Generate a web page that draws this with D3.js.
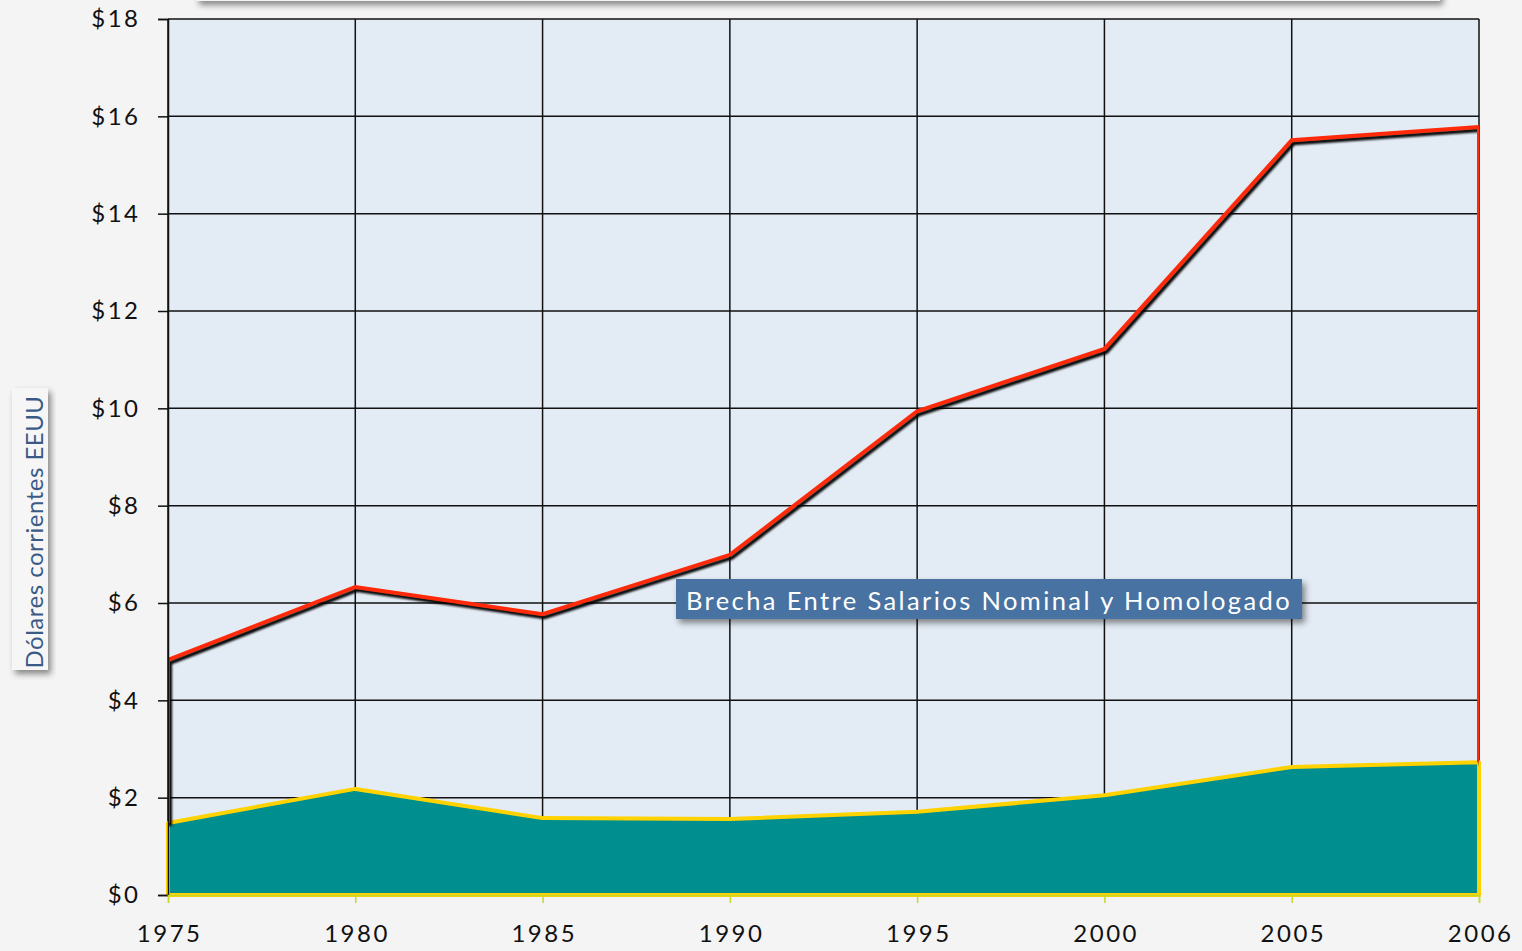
<!DOCTYPE html>
<html>
<head>
<meta charset="utf-8">
<script src="https://cdn.jsdelivr.net/npm/d3@7"></script>
<style>
  body { margin: 0; background: #f4f4f4; }
  svg { display: block; }
  .tick text { font-family: Lato, "Open Sans", sans-serif; fill: #111; letter-spacing: 2.5px; }
</style>
</head>
<body>
<svg id="chart" width="1522" height="951"></svg>
<script>
// datos
var anios = ["1975", "1980", "1985", "1990", "1995", "2000", "2005", "2006"];
var salarioNominal = [4.83, 6.33, 5.77, 6.99, 9.94, 11.22, 15.51, 15.78];
var salarioHomologado = [1.48, 2.18, 1.58, 1.56, 1.71, 2.05, 2.63, 2.73];
var ticksY = [0, 2, 4, 6, 8, 10, 12, 14, 16, 18];
var tituloEje = "Dólares corrientes EEUU";
var notaBrecha = "Brecha Entre Salarios Nominal y Homologado";

var svg = d3.select("#chart"),
    margin = {top: 19, right: 43, bottom: 56, left: 168},
    width = +svg.attr("width") - margin.left - margin.right,
    height = +svg.attr("height") - margin.top - margin.bottom;

var defs = svg.append("defs");
var sombra = defs.append("filter").attr("id", "sombra")
    .attr("x", "-10%").attr("y", "-10%").attr("width", "130%").attr("height", "160%");
sombra.append("feDropShadow")
    .attr("dx", 3).attr("dy", 4).attr("stdDeviation", 3)
    .attr("flood-color", "#000").attr("flood-opacity", 0.45);

defs.append("clipPath").attr("id", "recorte")
  .append("rect").attr("width", width).attr("height", height);

// caja del titulo (cortada arriba)
svg.append("rect")
    .attr("x", 196).attr("y", -40).attr("width", 1244).attr("height", 41)
    .attr("fill", "#f4f4f4").attr("filter", "url(#sombra)");

var data = anios.map(function (a, i) {
  return {anio: a, nominal: salarioNominal[i], homologado: salarioHomologado[i]};
});

var x = d3.scalePoint().domain(anios).range([0, width]);
var y = d3.scaleLinear().domain([0, 18]).range([height, 0]);

var g = svg.append("g").attr("transform", "translate(" + margin.left + "," + margin.top + ")");

g.append("rect").attr("width", width).attr("height", height).attr("fill", "#e3ebf4");

// cuadricula
g.append("g")
  .selectAll("line").data(ticksY).join("line")
    .attr("x1", 0).attr("x2", width)
    .attr("y1", function (d) { return y(d); }).attr("y2", function (d) { return y(d); })
    .attr("stroke", "#111").attr("stroke-width", 1.5);
g.append("g")
  .selectAll("line").data(anios).join("line")
    .attr("x1", function (d) { return x(d); }).attr("x2", function (d) { return x(d); })
    .attr("y1", 0).attr("y2", height)
    .attr("stroke", "#111").attr("stroke-width", 1.5);

// area homologado
var areaHom = d3.area()
    .x(function (d) { return x(d.anio); })
    .y0(y(0))
    .y1(function (d) { return y(d.homologado); });

g.append("path").datum(data)
    .attr("d", areaHom)
    .attr("fill", "#008f8e")
    .attr("stroke", "#ffd200").attr("stroke-width", 4).attr("stroke-linejoin", "round");

// contorno de la brecha (area apilada sobre el homologado)
var contorno = d3.line()
    .x(function (d) { return x(d[0]); })
    .y(function (d) { return y(d[1]); });

var pts = [[anios[0], salarioHomologado[0]]]
  .concat(data.map(function (d) { return [d.anio, d.nominal]; }))
  .concat([[anios[anios.length - 1], salarioHomologado[anios.length - 1]]]);

var gb = g.append("g").attr("clip-path", "url(#recorte)");
gb.append("path").datum(pts)
    .attr("d", contorno)
    .attr("transform", "translate(2,3)")
    .attr("fill", "none").attr("stroke", "#000").attr("stroke-width", 4)
    .attr("stroke-linejoin", "miter")
    .style("filter", "blur(0.8px)");
gb.append("path").datum(pts)
    .attr("d", contorno)
    .attr("fill", "none").attr("stroke", "#ff2a0a").attr("stroke-width", 4)
    .attr("stroke-linejoin", "miter");

// ejes
var ejeY = g.append("g")
    .call(d3.axisLeft(y).tickValues(ticksY).tickSize(10)
      .tickFormat(function (d) { return "$" + d; }));
ejeY.select(".domain").attr("stroke", "#111").attr("stroke-width", 1.5);
ejeY.selectAll(".tick line").attr("stroke", "#111").attr("stroke-width", 1.5);
ejeY.selectAll(".tick text").attr("font-size", 24).attr("dy", "0.33em")
    .attr("x", -27.5).attr("text-anchor", "end");

var ejeX = g.append("g")
    .attr("transform", "translate(0," + height + ")")
    .call(d3.axisBottom(x).tickSize(8).tickPadding(27));
ejeX.select(".domain").attr("stroke", "#c4d82e").attr("stroke-width", 1.5);
ejeX.selectAll(".tick text").attr("font-size", 24).attr("dy", "0.5em").attr("dx", 1.2);
ejeX.selectAll(".tick line").attr("stroke", "#c4d82e").attr("stroke-width", 1.5);

// etiqueta de la brecha
var nota = svg.append("g").attr("transform", "translate(676,579)");
nota.append("rect").attr("width", 626).attr("height", 40)
    .attr("fill", "#4672a1").attr("filter", "url(#sombra)");
nota.append("text").attr("x", 313).attr("y", 22).attr("dy", "0.35em")
    .attr("text-anchor", "middle")
    .attr("font-family", "Lato, 'Open Sans', sans-serif").attr("font-size", 25.5)
    .attr("letter-spacing", 2.4)
    .attr("fill", "#fff").text(notaBrecha);

// titulo del eje y
var tit = svg.append("g").attr("transform", "translate(12,388)");
tit.append("rect").attr("width", 36).attr("height", 282)
    .attr("fill", "#f6f6f6").attr("filter", "url(#sombra)");
tit.append("text")
    .attr("transform", "translate(31,144) rotate(-90)")
    .attr("text-anchor", "middle")
    .attr("font-family", "Lato, 'Open Sans', sans-serif").attr("font-size", 24)
    .attr("letter-spacing", 0.5)
    .attr("fill", "#3a5a86").text(tituloEje);
</script>
</body>
</html>
